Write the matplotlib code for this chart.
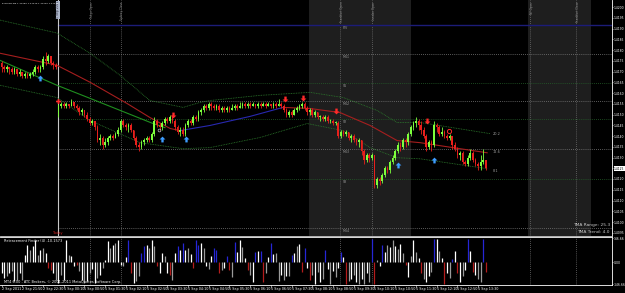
import matplotlib
matplotlib.use('Agg')
import matplotlib.pyplot as plt
import numpy as np

# candles, prices in pips above 1.4100 (M5 bars, 2 Sep 21:10 -> 5 Sep 13:45)
close_p = [72, 71, 72, 71, 70, 71, 69, 70, 68, 69, 68, 69, 70, 72, 71, 72, 76, 75, 77, 74, 73, 72,
           54, 55, 54, 55, 54, 56, 54, 53, 51, 52, 50, 48, 46, 47, 44, 38, 39, 36, 37,
           39, 40, 39, 41, 43, 47, 45, 44, 45, 43, 39, 36, 35, 37, 38, 39, 38, 41, 47, 45,
           44, 46, 48, 47, 49, 47, 44, 42, 43, 41, 45, 47, 46, 49, 48, 51, 52, 54, 53, 55,
           54, 53, 54, 52, 53, 52, 53, 52, 53, 54, 53, 54, 55,
           54, 55, 54, 55, 54, 55, 54, 55, 54, 55, 54, 55, 54, 55, 54, 52,
           50, 51, 50, 52, 53, 54, 55, 53, 51, 52, 50, 51, 49, 49, 48, 49, 47, 47, 46, 46,
           40, 42, 41, 42, 39, 40, 38, 37, 38, 33, 29, 31, 30, 31, 17, 20, 19, 22, 25, 24, 28,
           30, 33, 36, 35, 38, 37, 41, 44, 46, 47, 45, 43, 40, 35, 37, 36, 45, 44, 41, 42, 40,
           39, 40, 36, 34, 31, 32, 28, 27, 30, 32, 29, 27, 26, 28, 29, 25]
high_p = [75, 73, 73, 72, 72, 72, 71, 71, 70, 70, 70, 70, 71, 73, 73, 73, 77, 79, 78, 77, 75, 74,
          55, 56, 56, 56, 55, 57, 56, 55, 54, 53, 52, 51, 49, 48, 47, 45, 41, 40, 39,
          40, 41, 41, 42, 44, 48, 48, 46, 46, 46, 43, 40, 37, 38, 39, 40, 40, 42, 49, 48,
          46, 47, 49, 49, 50, 50, 48, 45, 44, 44, 46, 48, 48, 50, 50, 52, 53, 55, 55, 56,
          56, 55, 55, 55, 54, 54, 54, 54, 55, 55, 55, 56, 56,
          56, 56, 56, 56, 55, 56, 56, 56, 56, 56, 55, 56, 56, 57, 56, 55,
          53, 52, 52, 53, 54, 55, 56, 56, 54, 53, 53, 52, 51, 50, 50, 50, 50, 48, 48, 47,
          47, 43, 43, 43, 42, 41, 41, 39, 39, 38, 34, 32, 32, 32, 31, 21, 21, 23, 26, 26, 29,
          31, 34, 37, 37, 39, 39, 42, 45, 47, 49, 48, 47, 44, 41, 38, 38, 47, 46, 45, 44, 43,
          41, 41, 40, 37, 35, 33, 33, 29, 31, 34, 33, 30, 28, 31, 34, 29]
low_p = [70, 70, 70, 69, 69, 69, 68, 68, 67, 67, 67, 67, 68, 69, 70, 70, 71, 73, 74, 73, 71, 71,
         49, 53, 53, 53, 53, 54, 53, 52, 50, 50, 49, 47, 45, 45, 43, 37, 36, 34, 35,
         36, 38, 38, 39, 40, 42, 44, 43, 42, 42, 38, 35, 33, 34, 36, 37, 37, 37, 40, 44,
         43, 43, 45, 46, 46, 46, 43, 41, 40, 40, 40, 44, 45, 45, 47, 47, 50, 51, 52, 52,
         52, 52, 52, 51, 51, 51, 51, 51, 52, 52, 52, 53, 53,
         53, 53, 53, 54, 53, 53, 53, 54, 53, 54, 53, 53, 53, 54, 53, 51,
         49, 49, 49, 50, 51, 52, 53, 52, 50, 50, 49, 49, 48, 47, 47, 47, 46, 46, 45, 45,
         39, 39, 40, 40, 38, 37, 37, 36, 35, 31, 27, 28, 28, 29, 16, 16, 17, 18, 21, 23, 23,
         27, 29, 32, 33, 34, 35, 36, 40, 43, 44, 43, 41, 39, 33, 34, 33, 35, 42, 40, 40, 39,
         38, 38, 34, 33, 30, 29, 27, 26, 26, 29, 28, 26, 24, 24, 27, 24]
first_open_p = 74
monday_open_p = 50
monday_start = 22

# retracement finder histogram
hist_vals = [-11, -16, -14, -11, -9, -19, -18, -11, -18, 7, 17, 12, 16, 22, 7, 12, 14, 9,
             -6, -8, -11, -18, -21, -13, -18, 22, 7, 6,
             -4, -3, -9, -18, -21, -19, -11, -7, -21, -16, -13, -6,
             2, 21, 14, 17, 19, 22, -3, -4, 5, 22, -11, -21, -19, -14,
             9, 16, 17, 14, 22, 16, -4, -11, 9, 6, -11, -13, -18,
             9, 16, 12, 19, 12, 14, 8, -6, 22, 17, 19, 14, -4, -7, 6,
             14, 12, -11, -8, -6, 6, -8, -15, 20, 10, 22, 15, 4,
             -8, -13, -20, 10, 11, 11, -20, -11, 5, 19, 8, 9,
             -19, -13, -18, -14, -14, 7, 9, 16, 18, -10, 14, -6,
             -18, -13, -22, -10, -20, -17, 12, -7, -22, -9, -15, -6, 10, 5,
             -22, -19, -17, -13, -20, -22, -17, -22, -11, -20, 23, -22, 2, -4,
             17, 10, 17, 15, 22, 16, 13, 18, 9, -3, -15, 6, 22, 10, 4,
             -11, -17, -20, -14, -10, 23, 23, 11, 4, -22, -11, -16, 3, 11,
             -11, -20, -14, -8, 23, 11, -10, -13, -17, -20, 23, -10]
hist_cols = ("wwgwgwgwg" "wwgwwgwgw" "rrwgwgw" "wgw" "wrgwgwgwwgwg" "wwgwgwwgw" "brwgg"
             "bbwgwg" "rwwgwrg" "wbwbwgw" "rbbwgwgw" "bbrgwbrg" "bwwgw" "rgwbwb" "rgwbwg"
             "gwgwg" "bwgwrbw" "rgwgwg" "bwgwgwbw" "rgwgwgwgwg" "brgw" "bwgwgwgwg" "rwgwgw"
             "rgwwg" "bwgw" "rwgbw" "rwgw" "bw" "rwggbr")

# TMA centre (segments), bands and slow MA: (bar index, pips)
tma_red1_x = [-0.6, 21.4, 34.2, 48.5, 57.3, 65.1, 68.9]
tma_red1_p = [78.5, 72.9, 65.0, 55.1, 48.6, 43.5, 42.5]
tma_blue_x = [68.9, 80.5, 95.9, 108.7]
tma_blue_p = [42.5, 44.9, 49.1, 53.3]
tma_red2_x = [108.7, 119.1, 130.7, 142.3, 152.7, 161.6, 187.5]
tma_red2_p = [53.3, 52.8, 50.9, 44.9, 37.9, 36.9, 32.2]
upper_x = [-0.6, 21.4, 34.2, 45.8, 57.3, 70.1, 76.6, 80.5, 99.8, 119.1, 131.9, 145.0, 152.7, 161.6, 188.6]
upper_p = [93.9, 87.9, 78.5, 68.2, 56.5, 53.3, 55.6, 56.5, 58.9, 60.3, 57.9, 51.9, 46.3, 46.3, 41.1]
lower_x = [-0.6, 21.4, 34.2, 53.5, 70.1, 80.5, 99.8, 118.0, 131.9, 142.3, 152.7, 161.6, 187.5]
lower_p = [63.6, 57.9, 47.2, 36.9, 34.1, 34.6, 39.3, 45.8, 42.5, 34.6, 29.9, 29.4, 24.8]
slow_x = [-0.6, 21.4, 34.2, 58.5, 63.1]
slow_p = [75.2, 63.6, 57.5, 45.8, 43.9]
band_labels = ['20.2', '12.6', '8.1']
band_label_p = [41.0, 32.6, 23.7]

up_arrow_x = [14.9, 62.0, 71.2, 153.1, 167.0]
up_arrow_p = [67.0, 38.5, 38.5, 26.5, 29.0]
dn_arrow_x = [66.2, 109.5, 116.4, 129.1, 164.3]
dn_arrow_p = [50.0, 57.0, 57.5, 51.5, 47.0]

# pivot levels
piv_names = ['PIV', 'MS1', 'S1', 'MS2', 'S2', 'MS3', 'S3', 'MS4']
piv_p = [91.6, 78.0, 64.5, 56.1, 47.7, 34.1, 20.1, -2.8]
piv_kind = ['b', 'm', 's', 'm', 's', 'm', 's', 'm']

sess_x = [34.2, 46.1, 130.7, 143.1, 204.1, 221.8]
sess_names = ['Tokyo Open', 'Sydney Close', 'Frankfurt Open', 'London Open', 'NY Open', 'Frankfurt Close']
shade_spans = [(118.8, 158.1), (203.3, 227.6)]

price_ticks = [1.4200 - 0.0005 * k for k in range(22)]
time_tick_idx = list(range(0, 188, 8))
time_labels = ['2 Sep 2011', '2 Sep 21:50', '2 Sep 22:30', '5 Sep 00:10', '5 Sep 00:50', '5 Sep 01:30',
               '5 Sep 02:10', '5 Sep 02:50', '5 Sep 03:30', '5 Sep 04:10', '5 Sep 04:50', '5 Sep 05:30',
               '5 Sep 06:10', '5 Sep 06:50', '5 Sep 07:30', '5 Sep 08:10', '5 Sep 08:50', '5 Sep 09:30',
               '5 Sep 10:10', '5 Sep 10:50', '5 Sep 11:30', '5 Sep 12:10', '5 Sep 12:50', '5 Sep 13:30']
last_price = 1.41248


def pr(p):
    return 1.41 + np.array(p, dtype=float) / 1e4


W, H = 625, 293
fig = plt.figure(figsize=(W / 100, H / 100), dpi=100, facecolor='black')
ax = fig.add_axes([0, (H - 236) / H, 612 / W, 236 / H], facecolor='black')
ax2 = fig.add_axes([0, 8 / H, 612 / W, 48 / H], facecolor='black')

xl = (-0.58, 235.7)
fs = 2.2

# session shading and verticals
for a, b in shade_spans:
    ax.axvspan(a, b, color='#1e1e1e', lw=0, zorder=0)
for xs, nm in zip(sess_x, sess_names):
    for a in (ax, ax2):
        a.axvline(xs, color='#6e6e6e', lw=0.6, ls=(0, (1, 1.5)), zorder=1)
    ax.text(xs + 0.6, pr(102.5), nm, rotation=90, va='top', ha='center', fontsize=2.0, color='#8c8c8c')

# today line
ax.axvline(monday_start - 0.2, color='#c8c8c8', lw=0.8, zorder=2)
ax.text(monday_start - 0.2, pr(102.8), '5 Sep 2011', rotation=90, va='top', ha='center', fontsize=2.2,
        color='#303040', bbox=dict(boxstyle='square,pad=0.15', fc='#aab4c8', ec='none'))
ax.text(monday_start - 0.2, pr(-5.0), 'Today', ha='center', va='center', fontsize=2.4, color='#d02020')

# pivots
for nm, p, k in zip(piv_names, piv_p, piv_kind):
    if k == 'b':
        ax.plot([monday_start - 0.2, xl[1]], pr([p, p]), color='#1c1c78', lw=1.0, zorder=1)
    else:
        c = '#7a7a7a' if k == 'm' else '#24602a'
        ax.plot([monday_start - 0.2, xl[1]], pr([p, p]), color=c, lw=0.6, ls=(0, (1, 1.5)), zorder=1)
    ax.text(131.6, pr(p - 0.4), nm, ha='left', va='top', fontsize=2.3, color='#9a9a9a')

# indicator lines
ax.plot(upper_x, pr(upper_p), color='#2c7a2c', lw=0.6, ls=(0, (1, 1)), zorder=2)
ax.plot(lower_x, pr(lower_p), color='#2c7a2c', lw=0.6, ls=(0, (1, 1)), zorder=2)
ax.plot(slow_x, pr(slow_p), color='#1f8f1f', lw=0.8, zorder=2)
ax.plot(tma_red1_x, pr(tma_red1_p), color='#a51e1e', lw=0.8, zorder=2)
ax.plot(tma_blue_x, pr(tma_blue_p), color='#2828b0', lw=0.8, zorder=2)
ax.plot(tma_red2_x, pr(tma_red2_p), color='#a51e1e', lw=0.8, zorder=2)
for t, p in zip(band_labels, band_label_p):
    ax.text(189.5, pr(p), t, fontsize=2.5, color='#a0a0a0', va='center', ha='left')

# candles
n = len(close_p)
idx = np.arange(n)
opens = [first_open_p] + close_p[:-1]
opens[monday_start] = monday_open_p
o = pr(opens)
c = pr(close_p)
h = np.maximum(pr(high_p), np.maximum(o, c))
l = np.minimum(pr(low_p), np.minimum(o, c))
col = np.where(c >= o, '#7dff3c', '#e8201c')
ax.vlines(idx, l, h, colors=col, lw=0.6, zorder=3)
body = np.where(np.abs(c - o) < 3e-5, 3e-5, c - o)
ax.bar(idx, body, bottom=o, width=0.64, color=col, lw=0, zorder=4)

# signal arrows
arr_up = [(0, 1), (-1, 0), (-0.4, 0), (-0.4, -1), (0.4, -1), (0.4, 0), (1, 0), (0, 1)]
arr_dn = [(x, -y) for x, y in arr_up]
ax.plot(up_arrow_x, pr(up_arrow_p), ls='none', marker=arr_up, ms=4.2, color='#3d9cff', mew=0, zorder=5)
ax.plot(dn_arrow_x, pr(dn_arrow_p), ls='none', marker=arr_dn, ms=4.2, color='#ff2a2a', mew=0, zorder=5)
ax.plot([21.8], pr([56.1]), ls='none', marker='P', ms=3.5, color='#ff2a2a', mew=0, zorder=5)
ax.plot([172.8], pr([42.5]), ls='none', marker='o', ms=3, mfc='none', mec='#ff2a2a', mew=0.7, zorder=5)
ax.plot([60.8], pr([43.0]), ls='none', marker='o', ms=2, mfc='none', mec='#c0c0c0', mew=0.5, zorder=5)

ax.set_xlim(*xl)
ax.set_ylim(pr(100 - 229 / 2.15), pr(100 + 7 / 2.15))
ax.yaxis.tick_right()
ax.set_yticks(price_ticks)
ax.set_yticklabels(['%.4f' % v for v in price_ticks])
ax.tick_params(axis='y', colors='white', labelsize=fs, length=1.0, width=0.4, pad=0.4)
ax.set_xticks([])
for s in ['left', 'top']:
    ax.spines[s].set_visible(False)
ax.spines['right'].set_color('white')
ax.spines['bottom'].set_color('#d0d0d0')
for s in ['right', 'bottom']:
    ax.spines[s].set_linewidth(0.6)
ax.text(1.003, last_price, '%.4f' % last_price, transform=ax.get_yaxis_transform(), fontsize=fs,
        color='black', va='center', ha='left',
        bbox=dict(boxstyle='square,pad=0.1', fc='white', ec='none'), zorder=10)

fig.text(2 / W, 1 - 4 / H, 'EURUSD,M5 1.41286 1.41316 1.41245 1.41248', fontsize=1.75, color='white', va='center')
fig.text(610 / W, 1 - 225 / H, 'TMA Range: 25.3', fontsize=3.2, color='#c8c8c8', va='center', ha='right')
fig.text(610 / W, 1 - 232 / H, 'TMA Trend: 4.0', fontsize=3.2, color='#c8c8c8', va='center', ha='right')

# lower panel histogram
cmap = {'w': '#ffffff', 'g': '#9a9a9a', 'b': '#2626d6', 'r': '#b41c1c'}
ax2.vlines(idx, 0, hist_vals, colors=[cmap[k] for k in hist_cols], lw=0.9)
ax2.set_xlim(*xl)
ax2.set_ylim(-23, 25)
ax2.yaxis.tick_right()
ax2.set_yticks([24, 0, -22])
ax2.set_yticklabels(['146.66', '0.00', '-146.66'])
ax2.tick_params(axis='y', colors='white', labelsize=fs, length=1.0, width=0.4, pad=0.4)
ax2.set_xticks(time_tick_idx)
ax2.set_xticklabels(time_labels, ha='left')
ax2.tick_params(axis='x', colors='white', labelsize=2.4, length=1.2, width=0.4, pad=0.5)
ax2.spines['left'].set_visible(False)
for s in ['right', 'top', 'bottom']:
    ax2.spines[s].set_color('white')
    ax2.spines[s].set_linewidth(0.6)
ax2.text(1, 21, 'Retracement Finder (4) -10.1573', fontsize=2.5, color='white', va='center')
ax2.text(1, -20.5, 'MT4 6.00 - ATC Brokers, \u00a9 2001-2011 MetaQuotes Software Corp.',
         fontsize=2.5, color='white', va='center')

fig.savefig('out.png', dpi=100, facecolor='black')
